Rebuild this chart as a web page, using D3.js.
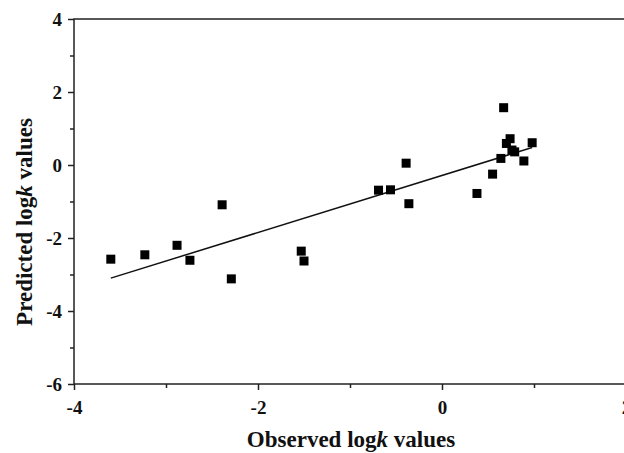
<!DOCTYPE html>
<html>
<head>
<meta charset="utf-8">
<script src="https://cdn.jsdelivr.net/npm/d3@7"></script>
<style>
  body { margin: 0; background: #fff; }
  svg { display: block; }
</style>
</head>
<body>
<div id="chart"></div>
<script>
// valeurs
const observed  = [-3.60, -3.23, -2.88, -2.74, -2.39, -2.29, -1.53, -1.50, -0.69, -0.56, -0.39,
                   -0.36, 0.38, 0.55, 0.64, 0.67, 0.74, 0.70, 0.76, 0.79, 0.89, 0.98];
const predicted = [-2.58, -2.46, -2.20, -2.61, -1.09, -3.12, -2.36, -2.63, -0.69, -0.68, 0.05,
                   -1.06, -0.78, -0.25, 0.18, 1.57, 0.72, 0.59, 0.41, 0.36, 0.11, 0.61];
// droite de régression (pente, ordonnée)
const fit = { slope: 0.781, intercept: -0.287 };
const xMajor = [-4, -2, 0, 2];
const xMinor = [-3, -1, 1];
const yMajor = [-6, -4, -2, 0, 2, 4];
const yMinor = [-5, -3, -1, 1, 3];

const width = 624, height = 453;
const margin = { top: 19, right: -2, bottom: 69, left: 74 };
const serif = "'Liberation Serif', 'Times New Roman', serif";

const x = d3.scaleLinear().domain([-4, 2]).range([margin.left, width - margin.right]);
const y = d3.scaleLinear().domain([-6, 4]).range([height - margin.bottom, margin.top]);

const svg = d3.select("#chart").append("svg")
    .attr("width", width)
    .attr("height", height);

// cadre
svg.append("rect")
    .attr("x", x(-4)).attr("y", y(4))
    .attr("width", x(2) - x(-4)).attr("height", y(-6) - y(4))
    .attr("fill", "none").attr("stroke", "#222").attr("stroke-width", 1.5);

const fmt = d => String(d); // tiret simple, pas de signe moins unicode

// axe x
const gx = svg.append("g").attr("transform", `translate(0,${y(-6)})`);
gx.call(d3.axisBottom(x).tickValues(xMajor).tickSize(6).tickPadding(11).tickFormat(fmt));
gx.append("g").call(d3.axisBottom(x).tickValues(xMinor).tickSize(4).tickFormat(""));

// axe y
const gy = svg.append("g").attr("transform", `translate(${x(-4)},0)`);
gy.call(d3.axisLeft(y).tickValues(yMajor).tickSize(6).tickPadding(6).tickFormat(fmt));
gy.append("g").call(d3.axisLeft(y).tickValues(yMinor).tickSize(4).tickFormat(""));

[gx, gy].forEach(g => {
    g.selectAll(".domain").remove();
    g.selectAll("line").attr("stroke", "#222").attr("stroke-width", 1.5);
    g.attr("font-family", serif).attr("font-size", 19).attr("font-weight", "bold");
    g.selectAll("text")
        .attr("fill", "#111")
        .style("font-family", serif)
        .style("font-size", "19px")
        .style("font-weight", "700");
});

// droite
const xs = [d3.min(observed), d3.max(observed)];
svg.append("path")
    .attr("fill", "none").attr("stroke", "#111").attr("stroke-width", 1.5)
    .attr("d", d3.line().x(d => x(d)).y(d => y(fit.slope * d + fit.intercept))(xs));

// points
const s = 9;
svg.append("g").selectAll("rect")
    .data(observed.map((d, i) => [d, predicted[i]]))
    .join("rect")
    .attr("x", d => x(d[0]) - s / 2)
    .attr("y", d => y(d[1]) - s / 2)
    .attr("width", s).attr("height", s)
    .attr("fill", "#000");

// titres
function title(sel) {
    sel.attr("text-anchor", "middle")
        .attr("fill", "#111")
        .style("font-family", serif)
        .style("font-weight", "700")
        .style("font-size", "23px");
}
const xt = svg.append("text").attr("x", 351).attr("y", 447).call(title);
xt.append("tspan").text("Observed log");
xt.append("tspan").style("font-style", "italic").text("k");
xt.append("tspan").text(" values");

const yt = svg.append("text").attr("transform", `translate(32,222) rotate(-90)`).call(title);
yt.append("tspan").text("Predicted log");
yt.append("tspan").style("font-style", "italic").text("k");
yt.append("tspan").text(" values");
</script>
</body>
</html>
